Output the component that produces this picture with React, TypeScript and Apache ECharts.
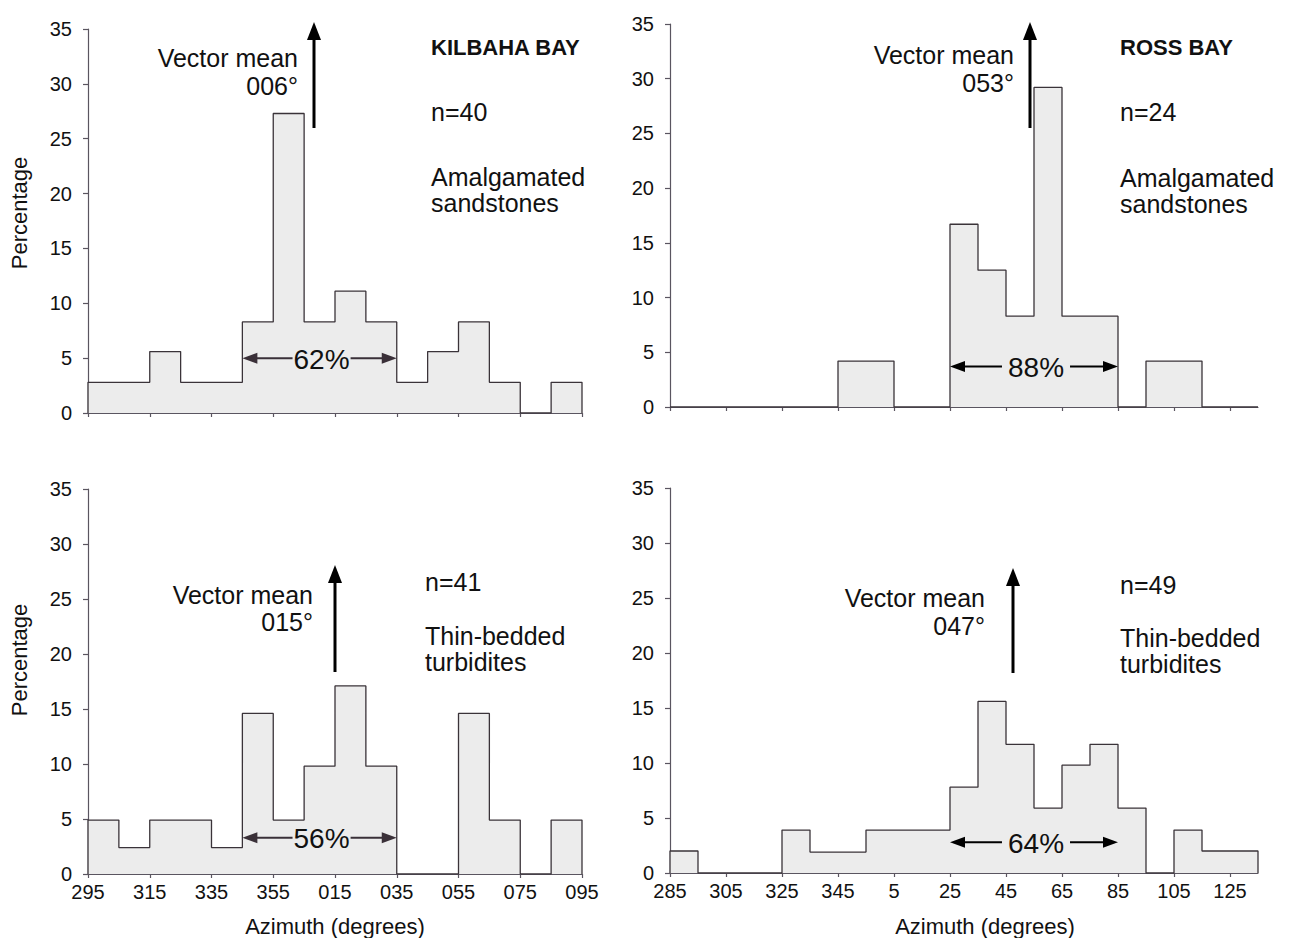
import React, { useEffect, useRef } from "react";
import * as echarts from "echarts";

// ---- data ----
const binWidth = 10; // degrees per class
const kilbahaTickLabels = ["295", "315", "335", "355", "015", "035", "055", "075", "095"];
const rossTickLabels = ["285", "305", "325", "345", "5", "25", "45", "65", "85", "105", "125"];
// percentage per 10° class, Kilbaha classes start at 295°, Ross classes start at 285°
const kilbahaSandstones = [2.8, 2.8, 5.6, 2.8, 2.8, 8.3, 27.3, 8.3, 11.1, 8.3, 2.8, 5.6, 8.3, 2.8, 0, 2.8];
const kilbahaTurbidites = [4.9, 2.4, 4.9, 4.9, 2.4, 14.6, 4.9, 9.8, 17.1, 9.8, 0, 0, 14.6, 4.9, 0, 4.9];
const rossSandstones = [0, 0, 0, 0, 0, 0, 4.2, 4.2, 0, 0, 16.7, 12.5, 8.3, 29.2, 8.3, 8.3, 0, 4.2, 4.2, 0, 0];
const rossTurbidites = [2.0, 0, 0, 0, 3.9, 1.9, 1.9, 3.9, 3.9, 3.9, 7.8, 15.6, 11.7, 5.9, 9.8, 11.7, 5.9, 0, 3.9, 2.0, 2.0];
const yMax = 35;
const yStep = 5;
// spread arrows (offset from first class start, degrees) per panel: TL, TR, BL, BR
const spreadLabels = ["62%", "88%", "56%", "64%"];
const spreadFrom = [50, 100, 50, 100];
const spreadTo = [100, 160, 100, 160];
const spreadLevel = [5.0, 3.7, 3.3, 2.8];

const FONT = '"Liberation Sans", Arial, Helvetica, sans-serif';
const OUTLINE = "#3a3339";
const AXIS = "#5a5560";

function stepData(vals: number[]) {
  const pts: number[][] = [[0, 0]];
  vals.forEach((v, i) => pts.push([i * binWidth, v]));
  pts.push([vals.length * binWidth, 0]);
  return pts;
}

export default function App() {
  const ref = useRef<HTMLDivElement>(null);
  useEffect(() => {
    if (!ref.current) return;
    const chart = echarts.init(ref.current, undefined, { renderer: "svg" });
    const panels = [
      { vals: kilbahaSandstones, labels: kilbahaTickLabels, showLabels: false, grid: { left: 88, top: 29, width: 494, height: 384 } },
      { vals: rossSandstones, labels: rossTickLabels, showLabels: false, grid: { left: 670, top: 24, width: 588, height: 383 } },
      { vals: kilbahaTurbidites, labels: kilbahaTickLabels, showLabels: true, grid: { left: 88, top: 489, width: 494, height: 385 } },
      { vals: rossTurbidites, labels: rossTickLabels, showLabels: true, grid: { left: 670, top: 488, width: 588, height: 385 } },
    ];
    const option: any = {
      animation: false,
      textStyle: { fontFamily: FONT },
      grid: panels.map((p) => ({ ...p.grid, containLabel: false })),
      xAxis: panels.map((p, i) => {
        const span = p.vals.length * binWidth;
        const tickVals = p.labels.map((_, k) => k * 20);
        return {
          type: "value",
          gridIndex: i,
          min: 0,
          max: span,
          interval: 20,
          axisLine: { show: true, onZero: false, lineStyle: { color: AXIS, width: 1.2 } },
          axisTick: { show: true, length: 4, customValues: tickVals, lineStyle: { color: AXIS, width: 1.2 } },
          axisLabel: {
            show: p.showLabels,
            customValues: tickVals,
            margin: 8,
            fontSize: 20,
            color: "#111",
            fontFamily: FONT,
            formatter: (v: number) => p.labels[Math.round(v / 20)] ?? "",
          },
          splitLine: { show: false },
        };
      }),
      yAxis: panels.map((p, i) => ({
        type: "value",
        gridIndex: i,
        min: 0,
        max: yMax,
        interval: yStep,
        axisLine: { show: true, lineStyle: { color: AXIS, width: 1.2 } },
        axisTick: { show: true, length: 5, lineStyle: { color: AXIS, width: 1.2 } },
        axisLabel: { margin: 16, fontSize: 20, color: "#111", fontFamily: FONT },
        splitLine: { show: false },
      })),
      series: panels.map((p, i) => ({
        type: "line",
        xAxisIndex: i,
        yAxisIndex: i,
        step: "end",
        symbol: "none",
        silent: true,
        data: stepData(p.vals),
        lineStyle: { color: OUTLINE, width: 1.3 },
        areaStyle: { color: "#ececec", opacity: 1 },
        z: 2,
      })),
    };
    chart.setOption(option);

    const g: any[] = [];
    const text = (t: string, x: number, y: number, opts: any = {}) => {
      g.push({
        type: "text",
        x,
        y,
        z: 100,
        rotation: opts.rotation || 0,
        style: {
          text: t,
          fill: "#111",
          font: `${opts.bold ? "bold " : ""}${opts.size || 25}px ${FONT}`,
          lineHeight: opts.lh,
          align: opts.align || "left",
          verticalAlign: "middle",
          textAlign: opts.align || "left",
          textVerticalAlign: "middle",
          backgroundColor: opts.bg,
          padding: opts.pad,
        },
      });
    };
    const upArrow = (x: number, tip: number, tail: number) => {
      g.push({ type: "line", z: 100, shape: { x1: x, y1: tail, x2: x, y2: tip + 12 }, style: { stroke: "#000", lineWidth: 3 } });
      g.push({ type: "polygon", z: 100, shape: { points: [[x, tip], [x - 7, tip + 18], [x + 7, tip + 18]] }, style: { fill: "#000" } });
    };
    // spread arrows from data coordinates
    panels.forEach((p, i) => {
      const a = chart.convertToPixel({ gridIndex: i } as any, [spreadFrom[i], spreadLevel[i]]) as number[];
      const b = chart.convertToPixel({ gridIndex: i } as any, [spreadTo[i], spreadLevel[i]]) as number[];
      const y = a[1];
      const col = i % 2 === 0 ? "#3a3038" : "#000";
      g.push({ type: "line", z: 99, shape: { x1: a[0] + 10, y1: y, x2: b[0] - 10, y2: y }, style: { stroke: col, lineWidth: 2 } });
      g.push({ type: "polygon", z: 99, shape: { points: [[a[0], y], [a[0] + 15, y - 5.5], [a[0] + 15, y + 5.5]] }, style: { fill: col } });
      g.push({ type: "polygon", z: 99, shape: { points: [[b[0], y], [b[0] - 15, y - 5.5], [b[0] - 15, y + 5.5]] }, style: { fill: col } });
      text(spreadLabels[i], (a[0] + b[0]) / 2 + 2, y + 1, { size: 28, align: "center", bg: "#ececec", pad: i % 2 === 0 ? [0, 1] : [0, 6] });
    });

    // top-left
    upArrow(314, 22, 128);
    text("Vector mean\n006°", 298, 72, { align: "right", lh: 28 });
    text("KILBAHA BAY", 431, 47, { bold: true, size: 22 });
    text("n=40", 431, 112);
    text("Amalgamated\nsandstones", 431, 190, { lh: 26 });
    // top-right
    upArrow(1030, 22, 128);
    text("Vector mean\n053°", 1014, 69, { align: "right", lh: 28 });
    text("ROSS BAY", 1120, 47, { bold: true, size: 22 });
    text("n=24", 1120, 112);
    text("Amalgamated\nsandstones", 1120, 191, { lh: 26 });
    // bottom-left
    upArrow(335, 565, 672);
    text("Vector mean\n015°", 313, 608, { align: "right", lh: 27 });
    text("n=41", 425, 582);
    text("Thin-bedded\nturbidites", 425, 649, { lh: 26 });
    // bottom-right
    upArrow(1013, 568, 673);
    text("Vector mean\n047°", 985, 612, { align: "right", lh: 28 });
    text("n=49", 1120, 585);
    text("Thin-bedded\nturbidites", 1120, 651, { lh: 26 });
    // axis titles
    text("Percentage", 19, 213, { size: 22, align: "center", rotation: Math.PI / 2 });
    text("Percentage", 19, 660, { size: 22, align: "center", rotation: Math.PI / 2 });
    text("Azimuth (degrees)", 335, 926, { size: 22, align: "center" });
    text("Azimuth (degrees)", 985, 926, { size: 22, align: "center" });

    chart.setOption({ graphic: { elements: g } });
    return () => chart.dispose();
  }, []);
  return <div ref={ref} style={{ position: "absolute", left: 0, top: 0, width: 1291, height: 938, background: "#fff" }} />;
}
